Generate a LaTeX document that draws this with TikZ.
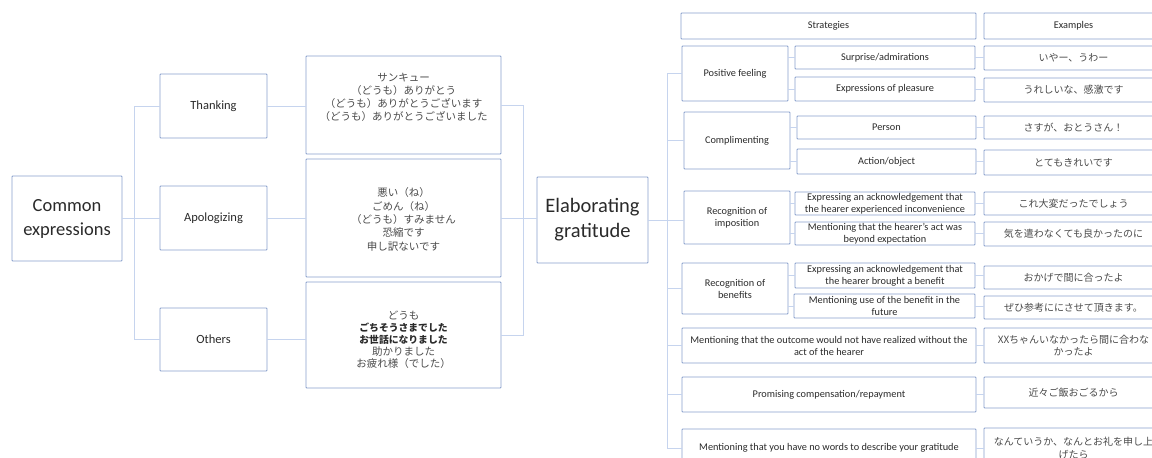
\documentclass[tikz,border=0pt]{standalone}
\usepackage{fontspec}
\setmainfont{Carlito}
\newfontfamily\jp{Noto Sans CJK JP}
\definecolor{boxline}{HTML}{889FCB}
\definecolor{connline}{HTML}{C6D4EE}
\definecolor{txt}{HTML}{2A2A2A}
\definecolor{jptxt}{HTML}{4A4A4A}

% \bx[options]{name}{x1}{y1}{x2}{y2}{text}: a box given by its corners
\newcommand\bx[7][]{%
  \node[box,#1,minimum width={#5-#3},minimum height={#6-#4}]
    (#2) at ({(#3+#5)/2},{(#4+#6)/2}) {#7};}
% emphasised list line
\newcommand\emline[1]{{\bfseries\color{txt}\fontsize{9.8}{12}\selectfont #1}}

\begin{document}
\begin{tikzpicture}[x=1pt,y=-1pt,
  box/.style={draw=boxline,line width=0.9pt,rounded corners=0.8pt,inner sep=1pt,
    align=center,text=txt,font=\fontsize{10.3}{12}\selectfont},
  big/.style={font=\fontsize{18.5}{24}\selectfont},
  huge/.style={font=\fontsize{20.5}{25}\selectfont},
  mid/.style={font=\fontsize{12.5}{15}\selectfont},
  jpex/.style={text=jptxt,font=\jp\fontsize{10}{12.5}\selectfont},
  jplist/.style={align=center,text=jptxt,inner sep=0pt},
  conn/.style={draw=connline,line width=0.9pt}]

\path[use as bounding box] (0,0) rectangle (1152,458);
\clip (0,0) rectangle (1152,458);

% ---- common expressions ----
\bx[big]{ce}{12}{176}{122}{261}{Common\\expressions}
\bx[mid]{th}{160}{74}{267}{138}{Thanking}
\bx[mid]{ap}{160}{186}{267}{250}{Apologizing}
\bx[mid]{ot}{160}{308}{267}{371}{Others}

\bx{j1}{306}{56}{501}{154}{}
\bx{j2}{306}{159}{501}{277}{}
\bx{j3}{306}{282}{501}{388}{}
\node[jplist,font=\jp\fontsize{10.5}{13}\selectfont] (j1t) at (403.5,97.5)
  {サンキュー\\（どうも）ありがとう\\（どうも）ありがとうございます\\（どうも）ありがとうございました};
\node[jplist,font=\jp\fontsize{10.5}{13.3}\selectfont] (j2t) at (403.5,219.5)
  {悪い（ね）\\ごめん（ね）\\（どうも）すみません\\恐縮です\\申し訳ないです};
\node[jplist,font=\jp\fontsize{10.5}{12}\selectfont] (j3t) at (403.5,340)
  {どうも\\\emline{ごちそうさまでした}\\\emline{お世話になりました}\\助かりました\\お疲れ様（でした）};

\bx[huge]{el}{537}{177}{648}{263}{Elaborating\\gratitude}

% left tree
\draw[conn] (ce.east) -- (ce.east -| ap.west);
\draw[conn] (th.west) -- ++(-25,0) |- (ot.west);
\draw[conn] (th.east) -- (th.east -| j1.west);
\draw[conn] (ap.east) -- (ap.east -| j2.west);
\draw[conn] (ot.east) -- (ot.east -| j3.west);
\coordinate (mj) at (523,0);
\draw[conn] (j1.east) -- (j1.east -| mj) |- (j3.east);
\draw[conn] (j2.east) -- (j2.east -| el.west);

% ---- table of strategies ----
\bx{hs}{681}{13}{976}{39}{Strategies}
\bx{he}{984}{13}{1163}{39}{Examples}

\bx{pf}{682}{46}{788}{101}{Positive feeling}
\bx{s1}{795}{46}{975}{69}{Surprise/admirations}
\bx{s2}{795}{77}{975}{101}{Expressions of pleasure}
\bx[jpex]{e1}{984}{46}{1163}{70}{いやー、うわー}
\bx[jpex]{e2}{984}{78}{1163}{102}{うれしいな、感激です}

\bx{cm}{684}{112}{790}{169}{Complimenting}
\bx{s3}{797}{116}{976}{139}{Person}
\bx{s4}{797}{149}{976}{174}{Action/object}
\bx[jpex]{e3}{984}{116}{1163}{139}{さすが、おとうさん！}
\bx[jpex]{e4}{984}{150}{1163}{175}{とてもきれいです}

\bx{im}{684}{191}{790}{244}{Recognition of\\imposition}
\bx{s5}{795}{192}{975}{215}{Expressing an acknowledgement that\\the hearer experienced inconvenience}
\bx{s6}{795}{222}{975}{245}{Mentioning that the hearer’s act was\\beyond expectation}
\bx[jpex]{e5}{984}{192}{1163}{215}{これ大変だったでしょう}
\bx[jpex]{e6}{984}{222}{1163}{246}{気を遣わなくても良かったのに}

\bx{rb}{682}{263}{788}{314}{Recognition of\\benefits}
\bx{s7}{795}{263}{975}{288}{Expressing an acknowledgement that\\the hearer brought a benefit}
\bx{s8}{794}{294}{975}{318}{Mentioning use of the benefit in the\\future}
\bx[jpex]{e7}{984}{266}{1163}{289}{おかげで間に合ったよ}
\bx[jpex]{e8}{984}{296}{1163}{319}{ぜひ参考ににさせて頂きます。}

\bx{mo}{682}{328}{976}{363}{Mentioning that the outcome would not have realized without the\\act of the hearer}
\bx[jpex]{e9}{984}{328}{1163}{363}{XXちゃんいなかったら間に合わな\\かったよ}

\bx{pr}{682}{377}{976}{412}{Promising compensation/repayment}
\bx[jpex]{e10}{984}{377}{1163}{408}{近々ご飯おごるから}

\bx{nw}{682}{429}{976}{467}{Mentioning that you have no words to describe your gratitude}
\bx[jpex]{e11}{984}{428}{1163}{468}{なんていうか、なんとお礼を申し上\\げたら}

% right tree
\coordinate (bus) at (667,0);
\draw[conn] (pf.west) -- (pf.west -| bus) |- (nw.west);
\draw[conn] (el.east) -- (el.east -| im.west);
\foreach \n in {cm,rb,mo,pr}
  \draw[conn] (\n.west) -- (\n.west -| bus);

% sub-strategy stubs
\foreach \p/\s in {pf/s1,pf/s2,cm/s3,cm/s4,im/s5,im/s6,rb/s7,rb/s8}
  \draw[conn] (\s.west) -- (\s.west -| \p.east);

% strategy-to-example stubs
\foreach \s/\e in {s1/e1,s2/e2,s3/e3,s4/e4,s5/e5,s6/e6,s7/e7,s8/e8,mo/e9,pr/e10,nw/e11}
  \draw[conn] (\s.east) -- (\s.east -| \e.west);
\end{tikzpicture}
\end{document}
